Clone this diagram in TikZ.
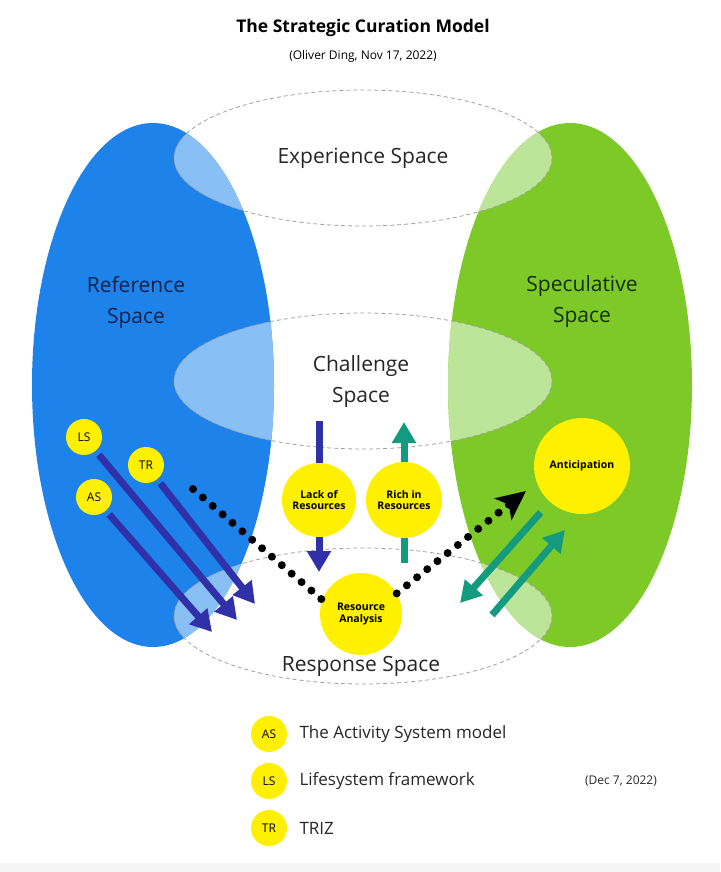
\documentclass[tikz,border=0pt]{standalone}
\usepackage{fontspec}
\setmainfont{Open Sans}
\usetikzlibrary{arrows.meta}

\definecolor{refblue}{HTML}{1E82EB}
\definecolor{reflight}{HTML}{88C0F5}
\definecolor{specgreen}{HTML}{7DC928}
\definecolor{speclight}{HTML}{BDE59A}
\definecolor{tagyellow}{HTML}{FFF000}
\definecolor{pullblue}{HTML}{3030A8}
\definecolor{pushteal}{HTML}{149A7E}

\newcommand{\fsz}[1]{\fontsize{#1}{#1}\selectfont}

\begin{document}
\begin{tikzpicture}[x=1pt,y=-1pt]

	\tikzstyle space lines=[dash pattern=on 4pt off 3pt, gray!75, line width=0.8pt];
	\tikzstyle tag=[circle, fill=tagyellow, inner sep=0pt, minimum size=36pt, font=\fsz{12}];
	\tikzstyle res=[circle, fill=tagyellow, inner sep=0pt, align=center, font={\fsz{10.5}\bfseries}];
	\tikzstyle space label=[align=center, font={\fontsize{21}{31}\selectfont}];
	\tikzstyle pull arrow=[pullblue, line width=7pt];
	\tikzstyle push arrow=[pushteal, line width=7pt];
	\tikzstyle hint line=[line width=8pt, line cap=round, dash pattern=on 0pt off 13pt];
	\tikzstyle big tip=[-{Triangle[length=21pt,width=23pt]}];

	\useasboundingbox (0,0) rectangle (720,872);
	\fill[black!4] (0,863) rectangle (720,872);

	% title
	\node[font={\fsz{17.5}\bfseries}] (title) at (363,28) {The Strategic Curation Model};
	\node[font=\fsz{12}] (subtitle) at (363,56) {(Oliver Ding, Nov 17, 2022)};

	% reference and speculative spaces
	\fill[refblue] (153,385) ellipse [x radius=121, y radius=262];
	\fill[specgreen] (570,385) ellipse [x radius=122, y radius=262];

	\begin{scope}
		\clip (153,385) ellipse [x radius=121, y radius=262];
		\foreach \y in {158,381,616}
			\fill[reflight] (363,\y) ellipse [x radius=189, y radius=68];
	\end{scope}
	\begin{scope}
		\clip (570,385) ellipse [x radius=122, y radius=262];
		\foreach \y in {158,381,616}
			\fill[speclight] (363,\y) ellipse [x radius=189, y radius=68];
	\end{scope}

	\foreach \y in {158,381,616}
		\draw[space lines] (363,\y) ellipse [x radius=189, y radius=68];

	\node[space label, text=black!85] (experience) at (363,158) {Experience Space};
	\node[space label, text=black!85] (challenge) at (361,382) {Challenge\\Space};
	\node[space label, text=black!85] (response) at (361,666) {Response Space};
	\node[space label, text={rgb,255:red,12;green,34;blue,74}] (reference) at (136,302) {Reference\\Space};
	\node[space label, text={rgb,255:red,20;green,46;blue,8}] (speculative) at (582,302) {Speculative\\Space};

	% tools and resources
	\node[tag] (LS) at (84,437) {LS};
	\node[tag] (TR) at (146,465) {TR};
	\node[tag] (AS) at (94,497) {AS};

	\node[res, minimum size=74pt] (lack) at (319,500) {Lack of\\[1pt]Resources};
	\node[res, minimum size=76pt] (rich) at (404,500) {Rich in\\[1pt]Resources};
	\node[res, minimum size=82pt] (analysis) at (361,614) {Resource\\[1pt]Analysis};
	\node[res, minimum size=96pt] (anticipation) at (582,466) {Anticipation};

	\coordinate (lsTip) at (237,620);
	\coordinate (trTip) at (255,604);
	\coordinate (asTip) at (212,632);
	\coordinate (lackTop) at (319,421);
	\coordinate (lackTip) at (319,572);
	\coordinate (richBase) at (404,563);
	\coordinate (richTip) at (404,422);
	\coordinate (antOut) at (460,603);
	\coordinate (antBase) at (492,615);
	\coordinate (antTip) at (565,530);
	\coordinate (hintStart) at (193,489);
	\coordinate (hintTip) at (526,491);

	\draw[pull arrow, big tip, shorten <=5pt] (LS) -- (lsTip);
	\draw[pull arrow, big tip, shorten <=5pt] (TR) -- (trTip);
	\draw[pull arrow, big tip, shorten <=5pt] (AS) -- (asTip);

	\draw[pull arrow] (lackTop) -- (lack);
	\draw[pull arrow, big tip] (lack) -- (lackTip);
	\draw[push arrow] (richBase) -- (rich);
	\draw[push arrow, big tip] (rich) -- (richTip);

	\draw[push arrow, big tip, shorten <=14pt] (anticipation) -- (antOut);
	\draw[push arrow, big tip] (antBase) -- (antTip);

	\draw[hint line] (hintStart) -- (analysis.160);
	\draw[hint line, -{Stealth[length=29pt,width=27pt,inset=7pt]}] (analysis.30) -- (hintTip);

	% legend
	\node[tag] (asKey) at (269,734) {AS};
	\node[tag] (lsKey) at (269,781) {LS};
	\node[tag] (trKey) at (269,828) {TR};
	\node[anchor=west, font=\fsz{17}, text=black!85] (asText) at (296,734) {The Activity System model};
	\node[anchor=west, font=\fsz{17}, text=black!85] (lsText) at (296,781) {Lifesystem framework};
	\node[anchor=west, font=\fsz{17}, text=black!85] (trText) at (296,828) {TRIZ};
	\node[font=\fsz{12}, text=black!85] (revised) at (621,781) {(Dec 7, 2022)};

\end{tikzpicture}
\end{document}
